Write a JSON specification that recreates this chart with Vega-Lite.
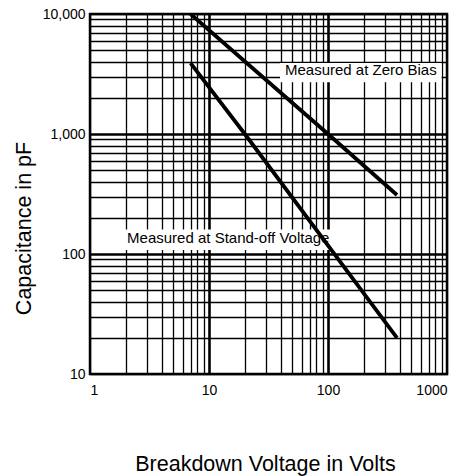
{
  "$schema": "https://vega.github.io/schema/vega-lite/v6.json",
  "width": 357,
  "height": 360,
  "autosize": {"type": "none"},
  "padding": {"left": 90, "top": 14, "right": 4, "bottom": 102},
  "background": "white",
  "config": {
    "font": "Liberation Sans",
    "view": {"stroke": "black", "strokeWidth": 2.5}
  },
  "datasets": {
    "curves": [
      {"series": "Measured at Zero Bias", "volts": 7, "pf": 10000},
      {"series": "Measured at Zero Bias", "volts": 100, "pf": 1000},
      {"series": "Measured at Zero Bias", "volts": 380, "pf": 310},
      {"series": "Measured at Stand-off Voltage", "volts": 7, "pf": 3900},
      {"series": "Measured at Stand-off Voltage", "volts": 20, "pf": 1000},
      {"series": "Measured at Stand-off Voltage", "volts": 380, "pf": 20}
    ],
    "boxes": [
      {"volts": 39.5, "x2": 900, "pf": 3900, "y2": 2700},
      {"volts": 1.72, "x2": 104, "pf": 160, "y2": 108}
    ],
    "labels": [
      {"text": "Measured at Zero Bias", "volts": 43.5, "pf": 3100},
      {"text": "Measured at Stand-off Voltage", "volts": 2.05, "pf": 124}
    ]
  },
  "encoding": {
    "x": {
      "field": "volts", "type": "quantitative",
      "scale": {"type": "log", "domain": [1, 1000], "nice": false},
      "axis": {
        "title": "Breakdown Voltage in Volts",
        "titleFontSize": 21.5, "titleFontWeight": "normal", "titleColor": "black",
        "titleBaseline": "alphabetic", "titleX": 175, "titleY": 96,
        "values": [1,2,3,4,5,6,7,8,9,10,20,30,40,50,60,70,80,90,100,200,300,400,500,600,700,800,900,1000],
        "labelExpr": "indexof([1,10,100,1000], datum.value) >= 0 ? format(datum.value, 'd') : ''",
        "labelFontSize": 14, "labelColor": "black", "labelPadding": 9, "labelFlush": true,
        "ticks": false, "tickSize": 0, "domain": false,
        "grid": true, "gridColor": "black", "gridOpacity": 1,
        "gridWidth": {"condition": {"test": "indexof([10,100], datum.value) >= 0", "value": 2.6}, "value": 1.3}
      }
    },
    "y": {
      "field": "pf", "type": "quantitative",
      "scale": {"type": "log", "domain": [10, 10000], "nice": false},
      "axis": {
        "title": "Capacitance in pF",
        "titleFontSize": 21.5, "titleFontWeight": "normal", "titleColor": "black",
        "titleBaseline": "alphabetic", "titleX": -60, "titleY": 214,
        "values": [10,20,30,40,50,60,70,80,90,100,200,300,400,500,600,700,800,900,1000,2000,3000,4000,5000,6000,7000,8000,9000,10000],
        "labelExpr": "indexof([10,100,1000,10000], datum.value) >= 0 ? format(datum.value, ',d') : ''",
        "labelFontSize": 14, "labelColor": "black", "labelPadding": 5, "labelFlush": false,
        "ticks": false, "tickSize": 0, "domain": false,
        "grid": true, "gridColor": "black", "gridOpacity": 1,
        "gridWidth": {"condition": {"test": "indexof([100,1000], datum.value) >= 0", "value": 2.6}, "value": 1.3}
      }
    }
  },
  "layer": [
    {
      "data": {"name": "boxes"},
      "mark": {"type": "rect", "color": "white", "opacity": 1},
      "encoding": {
        "x2": {"field": "x2"},
        "y2": {"field": "y2"}
      }
    },
    {
      "data": {"name": "labels"},
      "mark": {"type": "text", "align": "left", "baseline": "alphabetic", "fontSize": 15, "color": "black"},
      "encoding": {
        "text": {"field": "text"}
      }
    },
    {
      "data": {"name": "curves"},
      "mark": {"type": "line", "color": "black", "strokeWidth": 3.8, "clip": true},
      "encoding": {
        "detail": {"field": "series"}
      }
    }
  ]
}
